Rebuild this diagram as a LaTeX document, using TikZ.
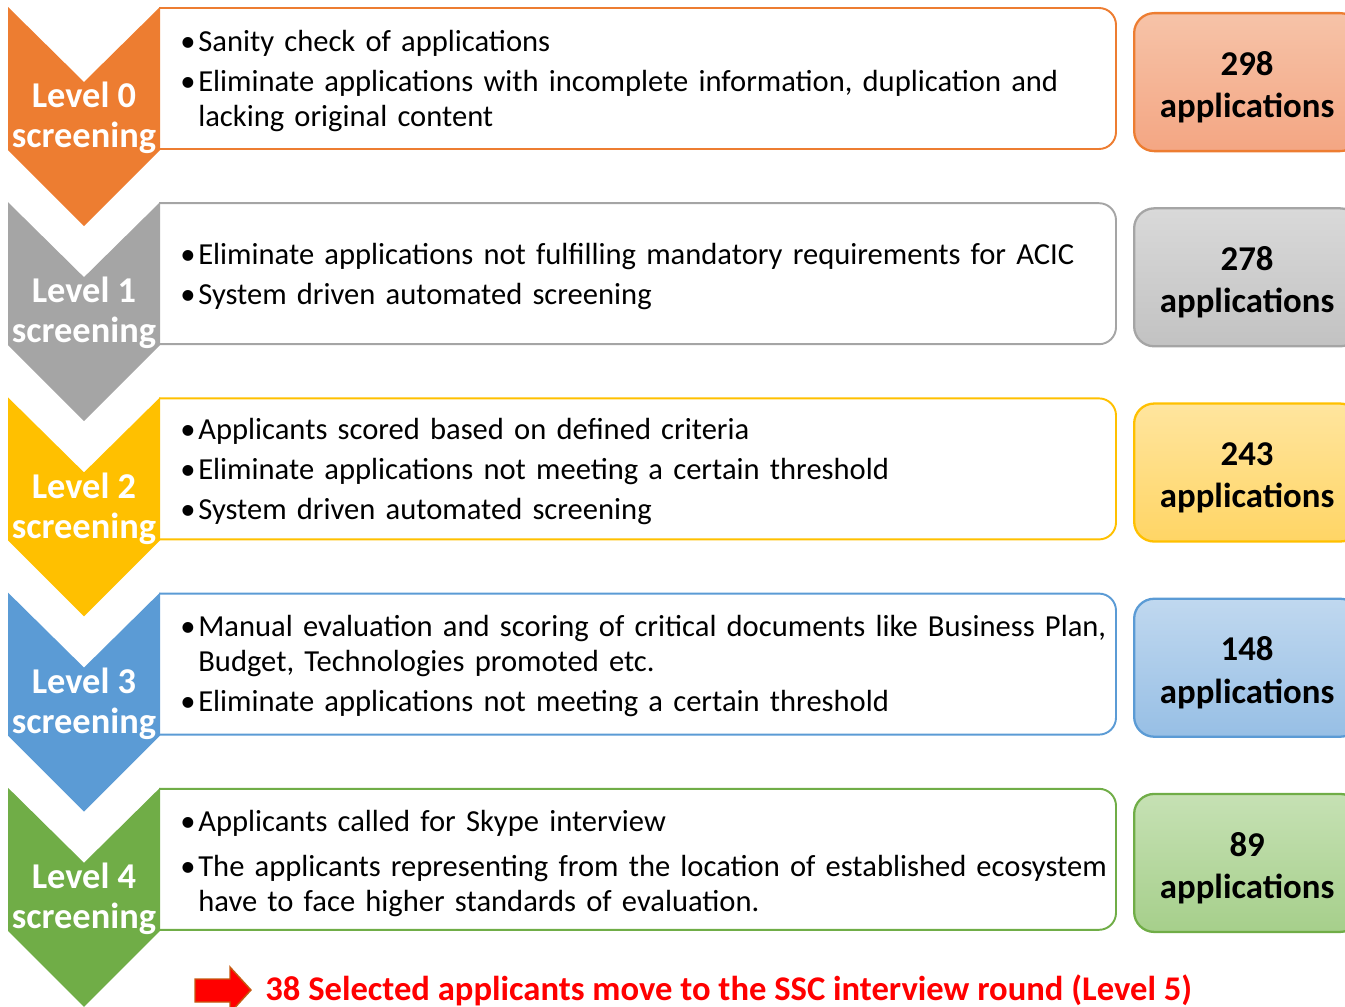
\documentclass[tikz,border=0pt]{standalone}
\usepackage{fontspec}
\setmainfont{Carlito}
\usetikzlibrary{positioning,calc}

% level colours (accent, and light top/bottom for the count boxes)
\definecolor{lvzero}{HTML}{ED7D31}
\definecolor{hilvzero}{HTML}{F6C3A8}
\definecolor{lolvzero}{HTML}{F4A683}
\definecolor{lvone}{HTML}{A5A5A5}
\definecolor{hilvone}{HTML}{D9D9D9}
\definecolor{lolvone}{HTML}{C2C2C2}
\definecolor{lvtwo}{HTML}{FFC000}
\definecolor{hilvtwo}{HTML}{FFE59E}
\definecolor{lolvtwo}{HTML}{FFD565}
\definecolor{lvthree}{HTML}{5B9BD5}
\definecolor{hilvthree}{HTML}{C0D8EF}
\definecolor{lolvthree}{HTML}{97BFE5}
\definecolor{lvfour}{HTML}{70AD47}
\definecolor{hilvfour}{HTML}{C6E1B4}
\definecolor{lolvfour}{HTML}{A6CF8B}
\definecolor{arrowedge}{HTML}{C55A11}

\newcommand{\bitem}[1]{\par\hangindent=0.36cm\hangafter=1\noindent\makebox[0.36cm][l]{\textbullet}#1\par}

\begin{document}
\begin{tikzpicture}[
    x=0.02cm, y=-0.02cm,
    infobox/.style={line width=1.1pt, rounded corners=0.34cm},
    lvtext/.style={text=white, font=\fontsize{20.7}{22.8}\selectfont\bfseries, align=center, inner sep=0pt},
    countbox/.style={rectangle, rounded corners=0.4cm, line width=1.3pt, minimum width=4.52cm, minimum height=2.76cm, align=center, font=\fontsize{19.8}{24}\selectfont\bfseries},
    bullets/.style={anchor=west, inner sep=0pt, text width=19.5cm, align=left, font=\fontsize{17.4}{19.9}\selectfont, execute at begin node=\setlength{\parskip}{2.9pt}},
    finaltext/.style={anchor=west, inner sep=0pt, text=red, font=\fontsize{19.7}{22}\selectfont\bfseries}
]
\clip (0,0) rectangle (1345,1007);

% levels: info box, chevron and count box
\foreach \lv/\T/\col/\num in {0/7/lvzero/298, 1/202.2/lvone/278, 2/397.4/lvtwo/243, 3/592.6/lvthree/148, 4/787.8/lvfour/89} {
  \draw[infobox, draw=\col] (159,\T+1) -- (1116,\T+1) -- (1116,\T+142) -- (159,\T+142);
  \fill[\col] (8,\T) -- (84,\T+75) -- (160,\T) -- (160,\T+143) -- (84,\T+219) -- (8,\T+143) -- cycle;
  \node[lvtext] (lv\lv) at (84,\T+111) {Level \lv\\screening};
  \node[countbox, draw=\col, top color=hi\col, bottom color=lo\col, anchor=north west] (cnt\lv) at (1133,\T+5) {\rule{0pt}{0.68cm}\num\\applications};
}

% bullet texts
\node[bullets] (txt0) at (180,72) {
  \bitem{Sanity check of applications}
  \bitem{Eliminate applications with incomplete information, duplication and\newline lacking original content}};
\node[bullets] (txt1) at (180,267) {
  \bitem{Eliminate applications not fulfilling mandatory requirements for ACIC}
  \bitem{System driven automated screening}};
\node[bullets] (txt2) at (180,462) {
  \bitem{Applicants scored based on defined criteria}
  \bitem{Eliminate applications not meeting a certain threshold}
  \bitem{System driven automated screening}};
\node[bullets] (txt3) at (180,657) {
  \bitem{Manual evaluation and scoring of critical documents like Business Plan,\newline Budget, Technologies promoted etc.}
  \bitem{Eliminate applications not meeting a certain threshold}};
\node[bullets] (txt4) at (180,854) {
  \bitem{Applicants called for Skype interview}\vspace{3pt}
  \bitem{The applicants representing from the location of established ecosystem\newline have to face higher standards of evaluation.}};

% final step
\filldraw[fill=red, draw=arrowedge, line width=0.8pt] (195,979) -- (230,979) -- (230,967) -- (251,990) -- (230,1013) -- (230,1002) -- (195,1002) -- cycle;
\node[finaltext] (final) at (265,990) {38 Selected applicants move to the SSC interview round (Level 5)};

\end{tikzpicture}
\end{document}
